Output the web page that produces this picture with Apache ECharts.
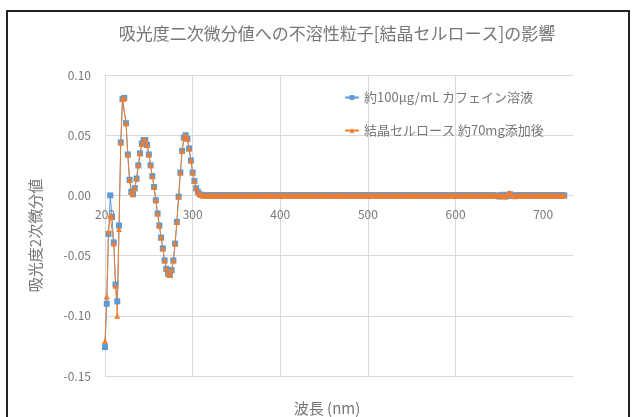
<!DOCTYPE html>
<html>
<head>
<meta charset="utf-8">
<script src="https://cdn.jsdelivr.net/npm/echarts@6/dist/echarts.min.js"></script>
<style>
  html, body { margin: 0; padding: 0; background: #fff; }
  #chart { width: 633px; height: 417px; }
</style>
</head>
<body>
<div id="chart"></div>
<script>
// wavelength grid (nm): first point and step
const startNm = 200;
const stepNm = 2;

// 約100μg/mL カフェイン溶液, 200-310 nm
const caffeineWave = [
    -0.126, -0.090, -0.032, 0.000, -0.018, -0.039, -0.074, -0.088, -0.025, 0.044,
    0.080, 0.081, 0.060, 0.034, 0.013, 0.003, 0.001, 0.006, 0.014, 0.025,
    0.035, 0.043, 0.046, 0.046, 0.042, 0.034, 0.025, 0.016, 0.007, -0.004,
    -0.015, -0.025, -0.035, -0.044, -0.054, -0.061, -0.065, -0.066, -0.062, -0.054,
    -0.040, -0.022, -0.001, 0.019, 0.037, 0.048, 0.050, 0.047, 0.039, 0.029,
    0.019, 0.012, 0.006, 0.003, 0.001, 0.0005
];
// 312-724 nm
const caffeineFlat = [
    0, 0, 0, 0, 0, 0, 0, 0, 0, 0,
    0, 0, 0, 0, 0, 0, 0, 0, 0, 0,
    0, 0, 0, 0, 0, 0, 0, 0, 0, 0,
    0, 0, 0, 0, 0, 0, 0, 0, 0, 0,
    0, 0, 0, 0, 0, 0, 0, 0, 0, 0,
    0, 0, 0, 0, 0, 0, 0, 0, 0, 0,
    0, 0, 0, 0, 0, 0, 0, 0, 0, 0,
    0, 0, 0, 0, 0, 0, 0, 0, 0, 0,
    0, 0, 0, 0, 0, 0, 0, 0, 0, 0,
    0, 0, 0, 0, 0, 0, 0, 0, 0, 0,
    0, 0, 0, 0, 0, 0, 0, 0, 0, 0,
    0, 0, 0, 0, 0, 0, 0, 0, 0, 0,
    0, 0, 0, 0, 0, 0, 0, 0, 0, 0,
    0, 0, 0, 0, 0, 0, 0, 0, 0, 0,
    0, 0, 0, 0, 0, 0, 0, 0, 0, 0,
    0, 0, 0, 0, 0, 0, 0, 0, 0, 0,
    0, 0, 0, 0, 0, 0, 0, -0.0005, 0, -0.001,
    0, 0.0005, 0, -0.0008, 0, 0.001, 0, -0.0005, 0, 0,
    0, 0, 0, 0, 0, 0, 0, 0, 0, 0,
    0, 0, 0, 0, 0, 0, 0, 0, 0, 0,
    0, 0, 0, 0, 0, 0, 0
];

// 結晶セルロース 約70mg添加後, 200-310 nm
const celluloseWave = [
    -0.121, -0.084, -0.030, -0.017, -0.018, -0.040, -0.075, -0.100, -0.028, 0.044,
    0.080, 0.081, 0.060, 0.034, 0.013, 0.003, 0.001, 0.006, 0.014, 0.025,
    0.035, 0.043, 0.046, 0.046, 0.042, 0.034, 0.025, 0.016, 0.007, -0.004,
    -0.015, -0.025, -0.035, -0.044, -0.054, -0.061, -0.065, -0.066, -0.062, -0.054,
    -0.040, -0.022, -0.001, 0.019, 0.037, 0.048, 0.050, 0.047, 0.039, 0.029,
    0.019, 0.012, 0.006, 0.003, 0.001, 0.0005
];
// 312-724 nm
const celluloseFlat = [
    0, 0, 0, 0, 0, 0, 0, 0, 0, 0,
    0, 0, 0, 0, 0, 0, 0, 0, 0, 0,
    0, 0, 0, 0, 0, 0, 0, 0, 0, 0,
    0, 0, 0, 0, 0, 0, 0, 0, 0, 0,
    0, 0, 0, 0, 0, 0, 0, 0, 0, 0,
    0, 0, 0, 0, 0, 0, 0, 0, 0, 0,
    0, 0, 0, 0, 0, 0, 0, 0, 0, 0,
    0, 0, 0, 0, 0, 0, 0, 0, 0, 0,
    0, 0, 0, 0, 0, 0, 0, 0, 0, 0,
    0, 0, 0, 0, 0, 0, 0, 0, 0, 0,
    0, 0, 0, 0, 0, 0, 0, 0, 0, 0,
    0, 0, 0, 0, 0, 0, 0, 0, 0, 0,
    0, 0, 0, 0, 0, 0, 0, 0, 0, 0,
    0, 0, 0, 0, 0, 0, 0, 0, 0, 0,
    0, 0, 0, 0, 0, 0, 0, 0, 0, 0,
    0, 0, 0, 0, 0, 0, 0, 0, 0, 0,
    0, 0, 0, 0, 0, 0, 0, 0, -0.0005, 0,
    0, 0, -0.001, 0, 0.0015, 0.002, 0.0005, 0, -0.0008, 0,
    0, 0, 0, 0, 0, 0, 0, 0, 0, 0,
    0, 0, 0, 0, 0, 0, 0, 0, 0, 0,
    0, 0, 0, 0, 0, 0, 0
];

const xTicks = [200, 300, 400, 500, 600, 700];
const seriesNames = ['約100μg/mL カフェイン溶液', '結晶セルロース 約70mg添加後'];
const titleText = '吸光度二次微分値への不溶性粒子[結晶セルロース]の影響';
const xName = '波長 (nm)';
const yName = '吸光度2次微分値';

const toPairs = (vals) => vals.map((v, i) => [startNm + i * stepNm, v]);

const textColor = '#767676';
const gridColor = '#d9d9d9';
const font = '"Noto Sans CJK JP", "Noto Sans", sans-serif';

// plot box; the x axis sits on y = 0 like Excel does
const gridTop = 75;
const gridBottom = 41;
const yMin = -0.15;
const yMax = 0.10;
const plotH = 417 - gridTop - gridBottom;
const zeroShift = plotH * (0 - yMin) / (yMax - yMin);

const chart = echarts.init(document.getElementById('chart'));

const option = {
    animation: false,
    textStyle: { fontFamily: font },
    title: [
        {
            text: titleText,
            left: 332,
            textAlign: 'center',
            top: 20,
            textStyle: { color: textColor, fontSize: 17, fontWeight: 'normal', fontFamily: font }
        },
        {
            text: xName,
            left: 322,
            textAlign: 'center',
            top: 396,
            textStyle: { color: textColor, fontSize: 15, fontWeight: 'normal', fontFamily: font }
        }
    ],
    graphic: [{
        type: 'rect',
        shape: { x: 7, y: 11, width: 622, height: 412 },
        style: { fill: 'none', stroke: '#222', lineWidth: 2 },
        silent: true
    }],
    legend: {
        orient: 'vertical',
        left: 339,
        top: 86,
        itemGap: 20,
        itemWidth: 14,
        itemHeight: 6,
        data: seriesNames,
        textStyle: { color: textColor, fontSize: 13, fontFamily: font }
    },
    grid: {
        left: 105,
        right: 60,
        top: gridTop,
        bottom: gridBottom
    },
    xAxis: {
        type: 'value',
        min: 200,
        max: 734,
        interval: 100,
        offset: -zeroShift,
        axisLine: { show: true, onZero: false, lineStyle: { color: gridColor } },
        axisTick: { show: false, customValues: xTicks },
        axisLabel: {
            customValues: xTicks,
            color: textColor,
            fontSize: 12,
            margin: 13
        },
        splitLine: { show: true, showMaxLine: false, lineStyle: { color: gridColor } }
    },
    yAxis: {
        type: 'value',
        min: yMin,
        max: yMax,
        interval: 0.05,
        name: yName,
        nameLocation: 'middle',
        nameGap: 62,
        nameTextStyle: { color: textColor, fontSize: 15, fontFamily: font, padding: [0, 0, 0, -20] },
        axisLine: { show: true, lineStyle: { color: gridColor } },
        axisTick: { show: false },
        axisLabel: {
            color: textColor,
            fontSize: 12,
            margin: 14,
            formatter: (v) => v.toFixed(2)
        },
        splitLine: { show: true, lineStyle: { color: gridColor } }
    },
    series: [
        {
            name: seriesNames[0],
            type: 'line',
            data: toPairs(caffeineWave.concat(caffeineFlat)),
            symbol: 'rect',
            symbolSize: 6,
            color: '#5B9BD5',
            lineStyle: { width: 1, color: '#5B9BD5' },
            itemStyle: { color: '#5B9BD5' }
        },
        {
            name: seriesNames[1],
            type: 'line',
            data: toPairs(celluloseWave.concat(celluloseFlat)),
            symbol: 'triangle',
            symbolSize: 6,
            color: '#ED7D31',
            lineStyle: { width: 1, color: '#ED7D31' },
            itemStyle: { color: '#ED7D31' }
        }
    ]
};

chart.setOption(option);
</script>
</body>
</html>
